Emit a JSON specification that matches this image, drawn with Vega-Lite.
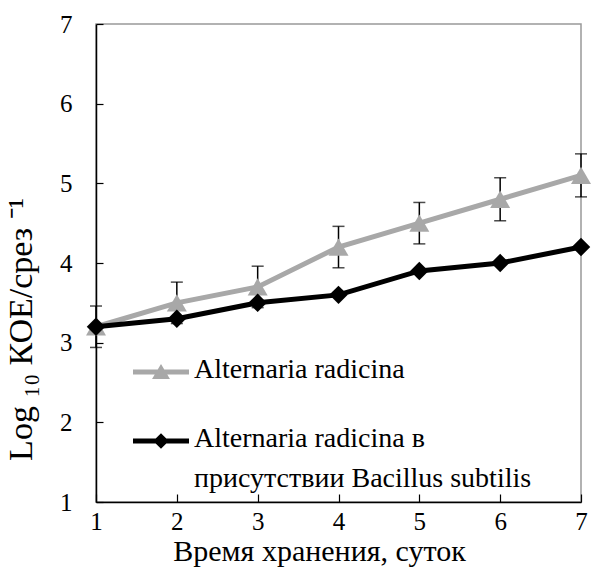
{
  "$schema": "https://vega.github.io/schema/vega-lite/v6.json",
  "width": 485,
  "height": 478,
  "autosize": "none",
  "padding": {"left": 96, "top": 24, "right": 10, "bottom": 79},
  "background": "white",
  "config": {
    "font": "Liberation Serif",
    "view": {"stroke": "#999999", "strokeWidth": 1.5},
    "style": {"guide-label": {"lineHeight": 40}},
    "axis": {
      "grid": false,
      "domainColor": "black",
      "domainWidth": 1.5,
      "tickColor": "black",
      "tickWidth": 1.2,
      "labelFont": "Liberation Serif",
      "labelFontSize": 25,
      "labelColor": "black",
      "titleFont": "Liberation Serif",
      "titleFontWeight": "normal",
      "titleColor": "black"
    }
  },
  "data": {
    "values": [
      {"day": 1, "series": "Alternaria radicina", "value": 3.2, "err": 0.26},
      {"day": 2, "series": "Alternaria radicina", "value": 3.5, "err": 0.26},
      {"day": 3, "series": "Alternaria radicina", "value": 3.7, "err": 0.26},
      {"day": 4, "series": "Alternaria radicina", "value": 4.2, "err": 0.26},
      {"day": 5, "series": "Alternaria radicina", "value": 4.5, "err": 0.26},
      {"day": 6, "series": "Alternaria radicina", "value": 4.8, "err": 0.27},
      {"day": 7, "series": "Alternaria radicina", "value": 5.1, "err": 0.27},
      {"day": 1, "series": "Alternaria radicina в присутствии Bacillus subtilis", "value": 3.2, "err": null},
      {"day": 2, "series": "Alternaria radicina в присутствии Bacillus subtilis", "value": 3.3, "err": null},
      {"day": 3, "series": "Alternaria radicina в присутствии Bacillus subtilis", "value": 3.5, "err": null},
      {"day": 4, "series": "Alternaria radicina в присутствии Bacillus subtilis", "value": 3.6, "err": null},
      {"day": 5, "series": "Alternaria radicina в присутствии Bacillus subtilis", "value": 3.9, "err": null},
      {"day": 6, "series": "Alternaria radicina в присутствии Bacillus subtilis", "value": 4.0, "err": null},
      {"day": 7, "series": "Alternaria radicina в присутствии Bacillus subtilis", "value": 4.2, "err": null}
    ]
  },
  "encoding": {
    "x": {
      "field": "day",
      "type": "quantitative",
      "scale": {"domain": [1, 7], "nice": false, "zero": false},
      "axis": {
        "title": "Время хранения, суток",
        "titleFontSize": 30,
        "titleX": 223,
        "values": [1, 2, 3, 4, 5, 6, 7],
        "tickSize": -8,
        "labelPadding": 15,
        "titlePadding": 2,
        "labelFlush": false
      }
    },
    "y": {
      "field": "value",
      "type": "quantitative",
      "scale": {"domain": [1, 7], "nice": false, "zero": false},
      "axis": {
        "title": "Log ₁₀ КОЕ/срез ⁻¹",
        "titleFontSize": 34,
        "values": [1, 2, 3, 4, 5, 6, 7],
        "tickSize": -7,
        "labelPadding": 31,
        "titleX": -58,
        "titleY": 305
      }
    }
  },
  "layer": [
    {
      "transform": [{"filter": "datum.err != null"}],
      "mark": {"type": "errorbar", "color": "black", "thickness": 1.5, "ticks": {"size": 12, "thickness": 1.5}},
      "encoding": {
        "yError": {"field": "err"}
      }
    },
    {
      "transform": [{"filter": "datum.series == 'Alternaria radicina'"}],
      "mark": {"type": "line", "color": "#a8a8a8", "strokeWidth": 5, "point": {"shape": "triangle-up", "size": 400, "filled": true, "color": "#a8a8a8", "opacity": 1}}
    },
    {
      "transform": [{"filter": "datum.series != 'Alternaria radicina'"}],
      "mark": {"type": "line", "color": "black", "strokeWidth": 5, "point": {"shape": "diamond", "size": 340, "filled": true, "color": "black", "opacity": 1}}
    },
    {
      "transform": [{"filter": "false"}],
      "mark": {"type": "point", "filled": true, "size": 3136, "opacity": 1},
      "encoding": {
        "shape": {
          "field": "series",
          "type": "nominal",
          "title": null,
          "scale": {
            "domain": ["Alternaria radicina", "Alternaria radicina в присутствии Bacillus subtilis"],
            "range": [
              "M-1,-0.304 L1,-0.304 L1,-0.124 L-1,-0.124 Z M0,-0.504 L0.32,0.036 L-0.32,0.036 Z",
              "M-1,-0.304 L1,-0.304 L1,-0.124 L-1,-0.124 Z M0,-0.494 L0.28,-0.214 L0,0.066 L-0.28,-0.214 Z"
            ]
          },
          "legend": {
            "orient": "none",
            "legendX": 37,
            "legendY": 326,
            "symbolSize": 3136,
            "symbolStrokeWidth": 0,
            "symbolOpacity": 1,
            "labelFont": "Liberation Serif",
            "labelFontSize": 28,
            "labelColor": "black",
            "labelBaseline": "alphabetic",
            "labelOffset": 5,
            "labelLimit": 400,
            "rowPadding": 35,
            "labelExpr": "datum.label == 'Alternaria radicina' ? datum.label : ['Alternaria radicina в', 'присутствии Bacillus subtilis']"
          }
        },
        "fill": {
          "field": "series",
          "type": "nominal",
          "title": null,
          "scale": {
            "domain": ["Alternaria radicina", "Alternaria radicina в присутствии Bacillus subtilis"],
            "range": ["#a8a8a8", "black"]
          }
        }
      }
    }
  ]
}
